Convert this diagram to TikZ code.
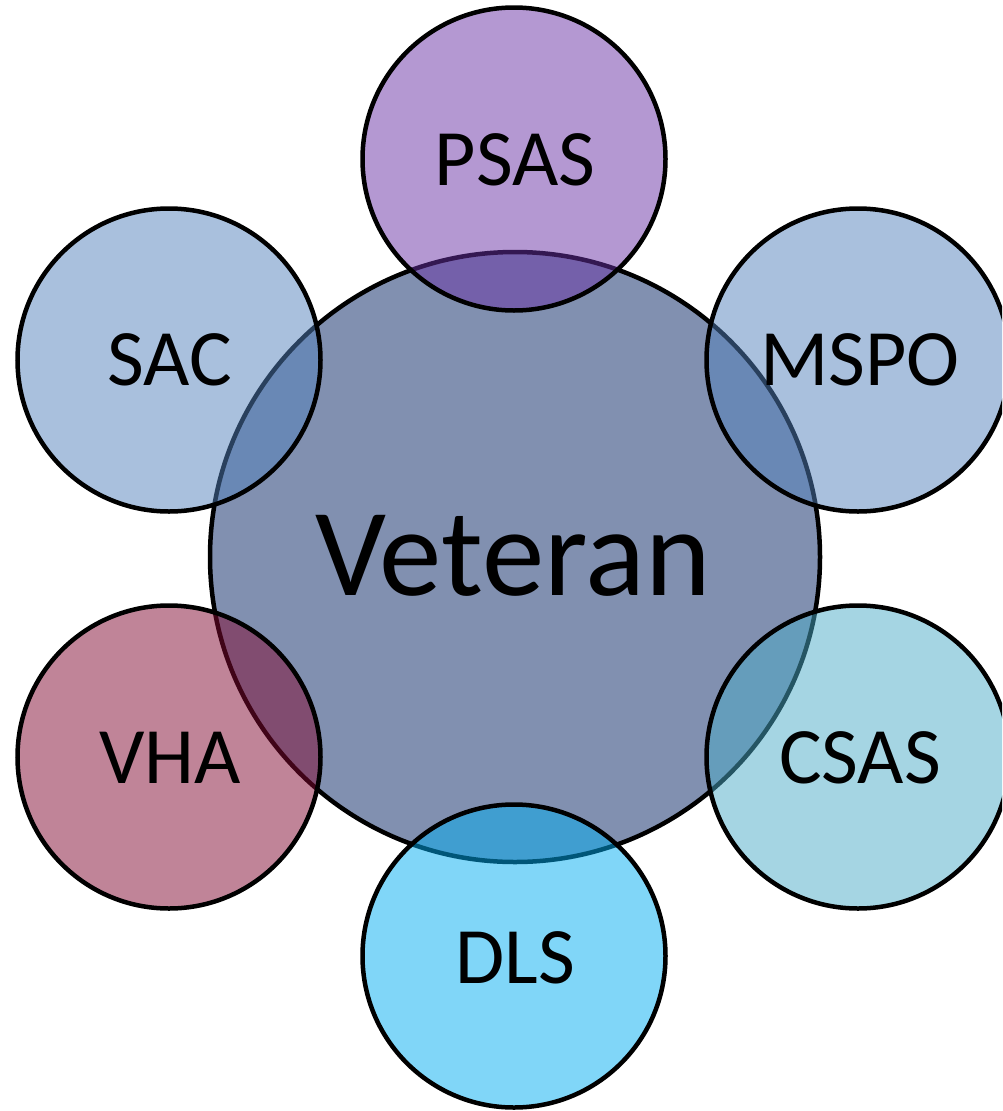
\documentclass[tikz,border=0pt]{standalone}
\usepackage{fontspec}
\setmainfont{Carlito}
\definecolor{cvet}{RGB}{129,144,176}
\definecolor{cpsas}{RGB}{105,49,165}
\definecolor{csac}{RGB}{83,129,187}
\definecolor{cvha}{RGB}{129,9,49}
\definecolor{ccsas}{RGB}{75,171,199}
\definecolor{cdls}{RGB}{1,173,241}
\tikzset{
  bigcirc/.style={circle, draw=black, line width=4.5pt, fill=cvet, minimum size=610pt, inner sep=0pt},
  smallcirc/.style={circle, draw=black, line width=4.5pt, fill opacity=0.5, text opacity=1, minimum size=303pt, inner sep=0pt},
  smalllabel/.style={anchor=base, inner sep=0pt, font=\fontsize{80}{96}\selectfont},
  biglabel/.style={anchor=base, inner sep=0pt, font=\fontsize{125}{150}\selectfont}
}
\begin{document}
\begin{tikzpicture}[x=1pt,y=-1pt]
\useasboundingbox (0,0) rectangle (1002,1111);
\clip (0,0) rectangle (1002,1111);
\node[bigcirc] (vet) at (515,557) {};
\node[smallcirc, fill=cpsas] (psas) at (514,159) {};
\node[smallcirc, fill=csac] (sac) at (169,360) {};
\node[smallcirc, fill=csac] (mspo) at (858,360) {};
\node[smallcirc, fill=cvha] (vha) at (169,757) {};
\node[smallcirc, fill=ccsas] (csas) at (858,757) {};
\node[smallcirc, fill=cdls] (dls) at (514,956) {};
\node[biglabel] (tvet) at (513,595) {Veteran};
\node[smalllabel] (tpsas) at (515,185) {PSAS};
\node[smalllabel] (tsac) at (170,385) {SAC};
\node[smalllabel] (tmspo) at (860,385) {MSPO};
\node[smalllabel] (tvha) at (170,783) {VHA};
\node[smalllabel] (tcsas) at (860,783) {CSAS};
\node[smalllabel] (tdls) at (515,983) {DLS};
\end{tikzpicture}
\end{document}
